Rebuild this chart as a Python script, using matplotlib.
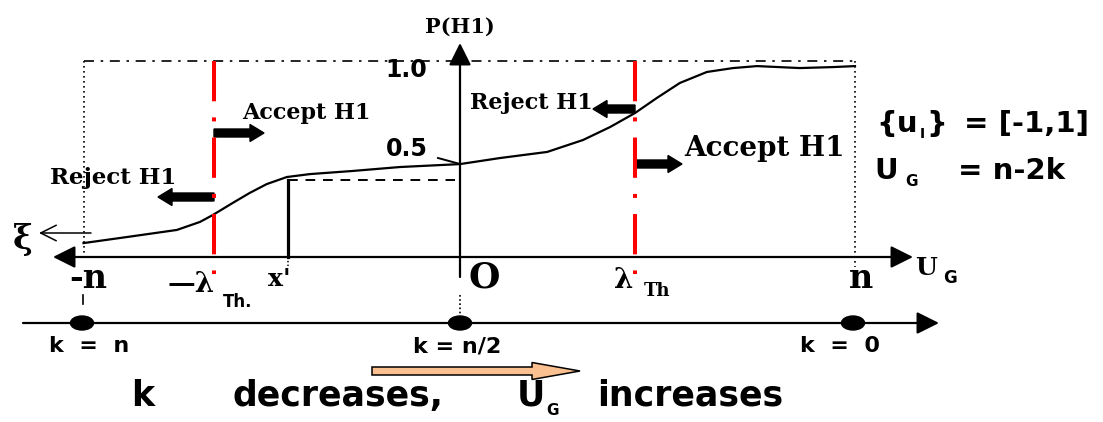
import matplotlib
matplotlib.use('Agg')
import matplotlib.pyplot as plt
from matplotlib.patches import Ellipse, FancyArrow

# P(H1) against U_G, U_G given in units of n (-n -> -1, n -> 1)
ug = [-1.0, -0.887, -0.758, -0.698, -0.665, -0.613, -0.569, -0.525, -0.473,
      -0.413, -0.302, -0.180, -0.024, 0.080, 0.202, 0.295, 0.365, 0.430,
      0.486, 0.546, 0.616, 0.684, 0.746, 0.857, 0.943, 1.0]
p_h1 = [0.071, 0.102, 0.138, 0.179, 0.214, 0.276, 0.327, 0.372, 0.408,
        0.423, 0.439, 0.459, 0.474, 0.505, 0.536, 0.597, 0.663, 0.735,
        0.811, 0.888, 0.944, 0.964, 0.974, 0.964, 0.969, 0.974]

lam_neg = -0.662      # -lambda_Th
lam_pos = 0.430       # lambda_Th
x_prime = -0.47
p_x_prime = 0.393
u_origin = -0.024     # where the P(H1) axis sits

k_labels = ['k  =  n', 'k = n/2', 'k  =  0']
k_pos = [82, 460, 853]
k_text_x = [89, 457, 840]

SERIF = 'DejaVu Serif'
SANS = 'DejaVu Sans'

fig = plt.figure(figsize=(11.03, 4.22), dpi=100)

# pixel-like canvas for the schematic parts
ax = fig.add_axes([0, 0, 1, 1])
ax.set_xlim(0, 1103)
ax.set_ylim(422, 0)
ax.axis('off')

# axes for the curve itself: U_G in [-1, 1], P in [0, 1]
axc = fig.add_axes([83.5 / 1103, (422 - 257) / 422, (855 - 83.5) / 1103, (257 - 61) / 422])
axc.set_xlim(-1, 1)
axc.set_ylim(0, 1)
axc.axis('off')
axc.patch.set_alpha(0)

# frame: dash-dot top at P = 1, dotted sides at -n and n
axc.plot([-1, 1], [1, 1], color='k', lw=1.2, ls=(0, (6, 4, 1.5, 4)), clip_on=False)
axc.plot([-1, -1], [1, 0], color='k', lw=1.2, ls=(0, (1, 2)), clip_on=False)
axc.plot([1, 1], [1, -0.05], color='k', lw=1.2, ls=(0, (1, 2)), clip_on=False)

# U_G axis (both ends), P axis, k axis
arrow_kw = dict(color='k', lw=1.6, shrinkA=0, shrinkB=0)
ax.annotate('', xy=(913, 257), xytext=(53, 257),
            arrowprops=dict(arrowstyle='<|-|>', mutation_scale=34, **arrow_kw))
ax.annotate('', xy=(460, 43), xytext=(460, 277),
            arrowprops=dict(arrowstyle='-|>', mutation_scale=34, **arrow_kw))
ax.annotate('', xy=(939, 323), xytext=(23, 323),
            arrowprops=dict(arrowstyle='-|>', mutation_scale=34, **arrow_kw))
# xi arrow
ax.annotate('', xy=(39, 233), xytext=(91, 233),
            arrowprops=dict(arrowstyle='->', mutation_scale=28, color='k', lw=1.1,
                            shrinkA=0, shrinkB=0))

# curve
axc.plot(ug, p_h1, color='k', lw=1.6, clip_on=False)

# thresholds
for lam in (lam_neg, lam_pos):
    axc.plot([lam, lam], [1, -0.085], color='#ff0000', lw=2.9,
             ls=(0, (10, 4, 1, 4)), clip_on=False)

# x' marker and projection to the P axis
axc.plot([x_prime, x_prime], [0, p_x_prime], color='k', lw=2.3, clip_on=False)
axc.plot([x_prime, u_origin - 0.013], [p_x_prime, p_x_prime], color='k', lw=1.4,
         ls=(0, (5, 4)), clip_on=False)
axc.plot([x_prime, x_prime], [0, -0.045], color='k', lw=1.1, ls=(0, (1, 1.5)), clip_on=False)

# leader from 0.5 to the curve
ax.plot([438, 460], [158, 164], color='k', lw=1.4)

# links from the U_G axis down to the k axis
ax.plot([83, 83], [295, 304], color='k', lw=1.2)
ax.plot([460, 460], [295, 316], color='k', lw=1.2, ls=(0, (1, 1.5)))

# k dots
for xk in k_pos:
    ax.add_patch(Ellipse((xk, 323), 23, 14, color='k', zorder=5))

# fat black arrows beside the thresholds
fat = dict(width=8, head_width=17, head_length=14, length_includes_head=True,
           color='k', zorder=4)
ax.add_patch(FancyArrow(214, 133, 50, 0, **fat))
ax.add_patch(FancyArrow(214, 197, -56, 0, **fat))
ax.add_patch(FancyArrow(635, 109, -42, 0, **fat))
ax.add_patch(FancyArrow(635, 164, 47, 0, **fat))

# orange arrow
ax.add_patch(FancyArrow(372, 371, 208, 0, width=8, head_width=17, head_length=48,
                        length_includes_head=True, fc='#fbc08f', ec='k', lw=1.1))


def t(x, y, s, size, family=SERIF, ha='center', va='center', **kw):
    ax.text(x, y, s, fontsize=size, family=family, fontweight='bold', ha=ha, va=va, **kw)


t(460, 27, 'P(H1)', 15)
t(406, 70, '1.0', 17, SANS)
t(407, 149, '0.5', 17, SANS)
t(306, 113, 'Accept H1', 16)
t(113, 178, 'Reject H1', 16.5)
t(531, 103, 'Reject H1', 16)
t(765, 148, 'Accept H1', 20)

# right-hand notes
t(876, 124, '{u', 21, SANS, ha='left')
t(922, 134, 'I', 10, SANS)
t(937, 124, '}', 21, SANS)
t(1026, 124, '= [-1,1]', 21, SANS)
t(874, 171, 'U', 21, SANS, ha='left')
t(911, 182, 'G', 11, SANS)
t(1012, 171, '= n-2k', 21, SANS)

# axis labels
t(23, 240, 'ξ', 24)
t(88, 279, '-n', 24)
t(484, 278, 'O', 26)
t(861, 278, 'n', 24)
t(279, 279, "x'", 18)

t(215, 285, '—λ', 20, ha='right')
t(238, 302, 'Th.', 12, SANS)
t(624, 280, 'λ', 20)
t(657, 291, 'Th', 13)
t(915, 268, 'U', 18, ha='left')
t(950, 278, 'G', 12, SANS)

for xt, lab in zip(k_text_x, k_labels):
    t(xt, 346, lab, 16, SANS)

# bottom caption
t(131, 396, 'k', 25, SANS, ha='left')
t(338, 396, 'decreases,', 25, SANS)
t(531, 396, 'U', 25, SANS)
t(546, 403, 'G', 11, SANS, ha='left', va='top')
t(690, 396, 'increases', 25, SANS)

fig.savefig('out.png', dpi=100)
